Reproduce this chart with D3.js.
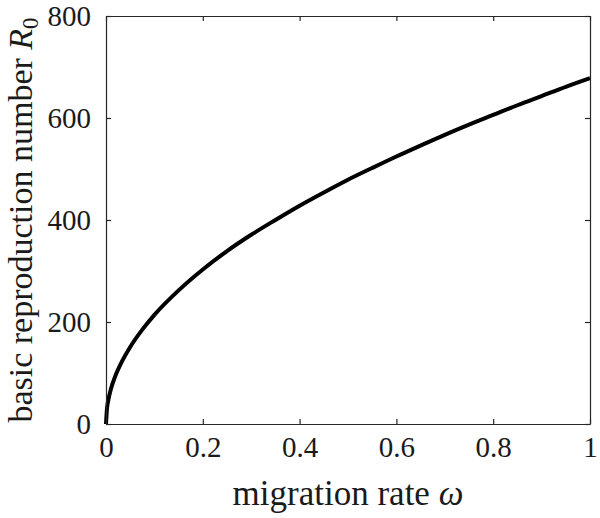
<!DOCTYPE html>
<html>
<head>
<meta charset="utf-8">
<script src="https://cdn.jsdelivr.net/npm/d3@7"></script>
<style>
  html, body { margin: 0; padding: 0; background: #fff; }
  svg { display: block; }
  text { font-family: "Liberation Serif", "Times New Roman", serif; fill: #1a1a1a; }
</style>
</head>
<body>
<svg id="chart" width="600" height="518"></svg>
<script>
// Values
const omega = [0, 0.002, 0.005, 0.01, 0.02, 0.03, 0.05, 0.075, 0.1, 0.15, 0.2, 0.25, 0.3, 0.35, 0.4, 0.45, 0.5, 0.55, 0.6, 0.65, 0.7, 0.75, 0.8, 0.85, 0.9, 0.95, 1.0];
const R0 = [0, 30, 48, 68, 96, 117, 151, 185, 214, 262, 303, 339, 371, 400, 428, 454, 479, 502, 524.5, 546, 567, 587, 606, 625, 643, 661, 678];
const xTicks = [0, 0.2, 0.4, 0.6, 0.8, 1];
const xTickLabels = ["0", "0.2", "0.4", "0.6", "0.8", "1"];
const yTicks = [0, 200, 400, 600, 800];
const yTickLabels = ["0", "200", "400", "600", "800"];

const svg = d3.select("#chart");
const m = { left: 106, right: 590, top: 16, bottom: 424 };
const x = d3.scaleLinear().domain([0, 1]).range([m.left, m.right]);
const y = d3.scaleLinear().domain([0, 800]).range([m.bottom, m.top]);

const data = omega.map((w, i) => ({ w, r: R0[i] }));

// curve
svg.append("path")
  .datum(data)
  .attr("fill", "none")
  .attr("stroke", "#000")
  .attr("stroke-width", 4)
  .attr("stroke-linejoin", "round")
  .attr("d", d3.line().x(d => x(d.w)).y(d => y(d.r)).curve(d3.curveMonotoneX));

// axes (inward ticks, box)
const tickLen = 5;
function styleAxis(g) {
  g.select(".domain").attr("stroke", "#262626").attr("stroke-width", 1.2);
  g.selectAll(".tick line").attr("stroke", "#262626").attr("stroke-width", 1.2);
}
const xb = svg.append("g").attr("transform", `translate(0,${m.bottom})`)
  .call(d3.axisBottom(x).tickValues(xTicks).tickSizeInner(-tickLen).tickSizeOuter(0)
    .tickFormat((d, i) => xTickLabels[i]).tickPadding(12));
xb.call(styleAxis);
xb.selectAll("text").attr("font-size", 29).attr("font-family", "Liberation Serif").attr("fill", "#1a1a1a");

const xt = svg.append("g").attr("transform", `translate(0,${m.top})`)
  .call(d3.axisTop(x).tickValues(xTicks).tickSizeInner(-tickLen).tickSizeOuter(0).tickFormat(""));
xt.call(styleAxis);

const yl = svg.append("g").attr("transform", `translate(${m.left},0)`)
  .call(d3.axisLeft(y).tickValues(yTicks).tickSizeInner(-tickLen).tickSizeOuter(0)
    .tickFormat((d, i) => yTickLabels[i]).tickPadding(15));
yl.call(styleAxis);
yl.selectAll("text").attr("font-size", 29).attr("font-family", "Liberation Serif").attr("fill", "#1a1a1a");

const yr = svg.append("g").attr("transform", `translate(${m.right},0)`)
  .call(d3.axisRight(y).tickValues(yTicks).tickSizeInner(-tickLen).tickSizeOuter(0).tickFormat(""));
yr.call(styleAxis);

// axis titles
const xl = svg.append("text")
  .attr("x", (m.left + m.right) / 2)
  .attr("y", 505)
  .attr("text-anchor", "middle")
  .attr("font-size", 35);
xl.append("tspan").text("migration rate ");
xl.append("tspan").attr("font-style", "italic").text("ω");

const ylab = svg.append("text")
  .attr("transform", `translate(32,${(m.top + m.bottom) / 2}) rotate(-90)`)
  .attr("text-anchor", "middle")
  .attr("font-size", 34);
ylab.append("tspan").text("basic reproduction number ");
ylab.append("tspan").attr("font-style", "italic").text("R");
ylab.append("tspan").attr("font-size", 23).attr("dy", 6).text("0");
</script>
</body>
</html>
